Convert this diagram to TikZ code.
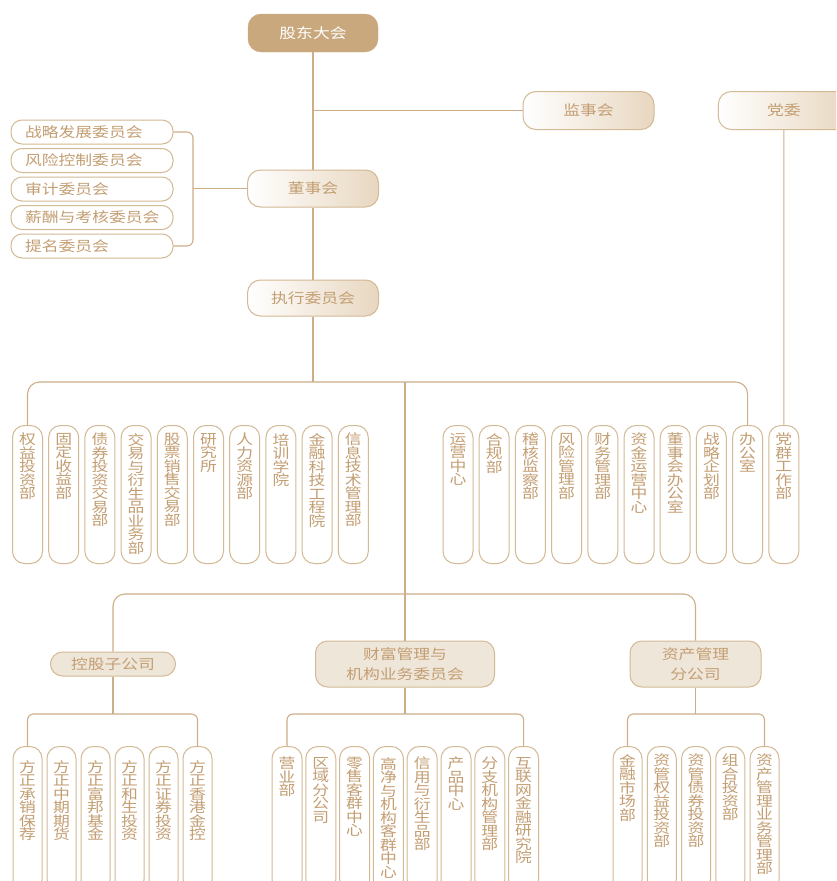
\documentclass[tikz,border=0pt]{standalone}
\usepackage{fontspec}
\setmainfont{Noto Sans CJK SC}[FakeStretch=1.2]
\usepackage{tikz}
\usetikzlibrary{positioning}
\definecolor{linec}{HTML}{CDAE88}
\definecolor{edgec}{HTML}{D3B994}
\definecolor{textc}{HTML}{C39E72}
\definecolor{headc}{HTML}{C9A87D}
\definecolor{beige}{HTML}{E8D7C0}
\definecolor{grpc}{HTML}{EFE6DA}
\newcommand{\orgfont}{\fontsize{14}{20}\selectfont}
\newcommand{\colfont}{\fontsize{14}{13.5}\selectfont}

\begin{document}
\begin{tikzpicture}[x=1pt,y=-1pt,
  link/.style={draw=linec,line width=1.1pt},
  topbox/.style={rounded corners=13pt,fill=headc,draw=headc,text=white,
    minimum width=130,minimum height=38,font=\orgfont},
  gradbox/.style={rounded corners=13pt,draw=edgec,line width=1pt,left color=white,
    right color=beige,text=textc,minimum width=131,minimum height=38,font=\orgfont},
  combox/.style={rounded corners=11pt,draw=edgec,line width=1pt,fill=white,text=textc,
    text width=134,align=left,inner xsep=14,inner ysep=0,minimum height=24,font=\orgfont},
  grpbox/.style={rounded corners=12pt,draw=edgec,line width=1pt,fill=grpc,text=textc,
    align=center,inner sep=0,font=\orgfont},
  colbox/.style={rounded corners=12pt,draw=edgec,line width=1pt,fill=white,
    anchor=north,inner sep=0,minimum width=30,minimum height=138},
  coltext/.style={text=textc,align=center,anchor=north,inner sep=0,font=\colfont}]
  \useasboundingbox (0,0) rectangle (836,881);
  \clip (0,0) rectangle (836,881);
  % governing bodies
  \node[topbox] (gm) at (313,33) {股东大会};
  \node[gradbox] (sup) at (588.5,110.5) {监事会};
  \node[gradbox] (party) at (783.8,110.5) {党委};
  \node[gradbox,minimum height=37] (board) at (313,188.5) {董事会};
  \node[gradbox,minimum height=36] (exec) at (313,298) {执行委员会};
  % board committees
  \foreach \t [count=\i] in {战略发展委员会,风险控制委员会,审计委员会,薪酬与考核委员会,提名委员会}
    \node[combox] (c\i) at (92,{132+28.5*(\i-1)}) {\t};
  % departments, left group
  \foreach \t [count=\i] in {{权\\益\\投\\资\\部},{固\\定\\收\\益\\部},{债\\券\\投\\资\\交\\易\\部},
      {交\\易\\与\\衍\\生\\品\\业\\务\\部},{股\\票\\销\\售\\交\\易\\部},{研\\究\\所},
      {人\\力\\资\\源\\部},{培\\训\\学\\院},{金\\融\\科\\技\\工\\程\\院},{信\\息\\技\\术\\管\\理\\部}}{
    \node[colbox] (l\i) at ({27.5+36.2*(\i-1)},425) {};
    \node[coltext] (lt\i) at ([yshift=-8pt]l\i.north) {\t};
  }
  % departments, right group
  \foreach \t [count=\i] in {{运\\营\\中\\心},{合\\规\\部},{稽\\核\\监\\察\\部},{风\\险\\管\\理\\部},
      {财\\务\\管\\理\\部},{资\\金\\运\\营\\中\\心},{董\\事\\会\\办\\公\\室},{战\\略\\企\\划\\部},
      {办\\公\\室},{党\\群\\工\\作\\部}}{
    \node[colbox] (r\i) at ({458+36.2*(\i-1)},425) {};
    \node[coltext] (rt\i) at ([yshift=-8pt]r\i.north) {\t};
  }
  % business lines
  \node[grpbox,minimum width=125,minimum height=24] (hold) at (113,664) {控股子公司};
  \node[grpbox,minimum width=179,minimum height=46] (fin) at (405,664) {财富管理与\\机构业务委员会};
  \node[grpbox,minimum width=131,minimum height=46] (am) at (695.5,664) {资产管理\\分公司};
  \foreach \t [count=\i] in {{方\\正\\承\\销\\保\\荐},{方\\正\\中\\期\\期\\货},{方\\正\\富\\邦\\基\\金},
      {方\\正\\和\\生\\投\\资},{方\\正\\证\\券\\投\\资},{方\\正\\香\\港\\金\\控}}{
    \node[colbox,minimum width=29,minimum height=145] (h\i) at ({27.5+34*(\i-1)},746) {};
    \node[coltext] (ht\i) at ([yshift=-14pt]h\i.north) {\t};
  }
  \foreach \t [count=\i] in {{营\\业\\部},{区\\域\\分\\公\\司},{零\\售\\客\\群\\中\\心},
      {高\\净\\与\\机\\构\\客\\群\\中\\心},{信\\用\\与\\衍\\生\\品\\部},{产\\品\\中\\心},
      {分\\支\\机\\构\\管\\理\\部},{互\\联\\网\\金\\融\\研\\究\\院}}{
    \node[colbox,minimum height=145] (f\i) at ({287+33.8*(\i-1)},746) {};
    \node[coltext] (ft\i) at ([yshift=-11pt]f\i.north) {\t};
  }
  \foreach \t [count=\i] in {{金\\融\\市\\场\\部},{资\\管\\权\\益\\投\\资\\部},{资\\管\\债\\券\\投\\资\\部},
      {组\\合\\投\\资\\部},{资\\产\\管\\理\\业\\务\\管\\理\\部}}{
    \node[colbox,minimum width=29,minimum height=145] (a\i) at ({627.5+34.25*(\i-1)},746) {};
    \node[coltext] (at\i) at ([yshift=-8pt]a\i.north) {\t};
  }
  % bus points
  \coordinate (cb) at (193,188.5);
  \coordinate (tb) at (313,382);
  \coordinate (tm) at (405,382);
  \coordinate (bb) at (405,594);
  \coordinate (hb) at (113,714);
  \coordinate (fb) at (405,714);
  \coordinate (ab) at (695.5,714);
  % connectors
  \draw[link] (gm) -- (board);
  \draw[link] (sup.west) -- (sup.west -| gm.south);
  \draw[link] (board) -- (exec);
  \draw[link] (board.west) -- (cb);
  \draw[link,rounded corners=6pt] (c1.east) -| (cb) |- (c5.east);
  \draw[link] (exec.south) -- (tb);
  \draw[link,rounded corners=12pt] (l1.north) |- (tb) -| (r9.north);
  \draw[link] (party.south) -- (r10.north);
  \draw[link] (tm) -- (bb);
  \draw[link,rounded corners=12pt] (hold.north) |- (bb) -| (am.north);
  \draw[link] (bb) -- (fin.north);
  \draw[link] (hold.south) -- (hb);
  \draw[link,rounded corners=6pt] (h1.north) |- (hb) -| (h6.north);
  \draw[link] (fin.south) -- (fb);
  \draw[link,rounded corners=6pt] (f1.north) |- (fb) -| (f8.north);
  \draw[link] (am.south) -- (ab);
  \draw[link,rounded corners=6pt] (a1.north) |- (ab) -| (a5.north);
\end{tikzpicture}
\end{document}
